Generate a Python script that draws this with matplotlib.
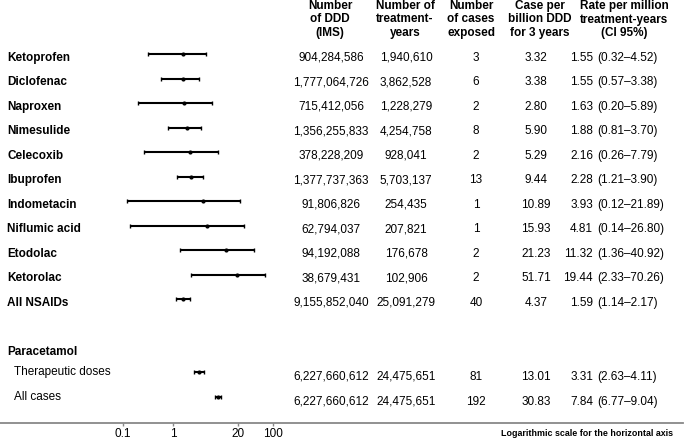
import numpy as np
import matplotlib
matplotlib.use("Agg")
import matplotlib.pyplot as plt
from matplotlib import transforms

plt.rcParams['font.family'] = ['Liberation Sans', 'DejaVu Sans']

# data
drugs = ['Ketoprofen', 'Diclofenac', 'Naproxen', 'Nimesulide', 'Celecoxib',
         'Ibuprofen', 'Indometacin', 'Niflumic acid', 'Etodolac', 'Ketorolac',
         'All NSAIDs']
ddd = [904284586, 1777064726, 715412056, 1356255833, 378228209, 1377737363,
       91806826, 62794037, 94192088, 38679431, 9155852040]
years = [1940610, 3862528, 1228279, 4254758, 928041, 5703137, 254435,
         207821, 176678, 102906, 25091279]
cases = [3, 6, 2, 8, 2, 13, 1, 1, 2, 2, 40]
per_billion = [3.32, 3.38, 2.80, 5.90, 5.29, 9.44, 10.89, 15.93, 21.23, 51.71, 4.37]
rate = [1.55, 1.55, 1.63, 1.88, 2.16, 2.28, 3.93, 4.81, 11.32, 19.44, 1.59]
ci_lo = [0.32, 0.57, 0.20, 0.81, 0.26, 1.21, 0.12, 0.14, 1.36, 2.33, 1.14]
ci_hi = [4.52, 3.38, 5.89, 3.70, 7.79, 3.90, 21.89, 26.80, 40.92, 70.26, 2.17]

para_labels = ['Therapeutic doses', 'All cases']
para_ddd = [6227660612, 6227660612]
para_years = [24475651, 24475651]
para_cases = [81, 192]
para_per_billion = [13.01, 30.83]
para_rate = [3.31, 7.84]
para_lo = [2.63, 6.77]
para_hi = [4.11, 9.04]

headers = ['Number\nof DDD\n(IMS)', 'Number of\ntreatment-\nyears',
           'Number\nof cases\nexposed', 'Case per\nbillion DDD\nfor 3 years',
           'Rate per million\ntreatment-years\n(CI 95%)']
ticks = [0.1, 1, 20, 100]

W, H = 685, 440
axis_y = 422.7
fig = plt.figure(figsize=(W / 100, H / 100), dpi=100)
ax = fig.add_axes([0, (H - axis_y) / H, 683 / W, axis_y / H])
ax.set_xscale('log')
ax.set_xlim(10 ** (-173 / 50), 10 ** ((683 - 173) / 50))
ax.set_ylim(axis_y, 0)
for s in ['top', 'left', 'right']:
    ax.spines[s].set_visible(False)
ax.spines['bottom'].set_color('#888888')
ax.spines['bottom'].set_linewidth(1.3)
ax.set_yticks([])
ax.set_xticks(ticks)
ax.set_xticklabels(['0.1', '1', '20', '100'])
ax.xaxis.set_minor_locator(matplotlib.ticker.NullLocator())
ax.tick_params(axis='x', length=2.5, width=1, color='#888888', pad=1.5,
               labelsize=8.5)

tr = transforms.blended_transform_factory(fig.transFigure, ax.transData)
col_x = [331, 406, 476, 536]
rate_x, ci_x = 593, 597
fs = 8.5

def row_text(y, vals, r, lo, hi):
    for x, v in zip(col_x, vals):
        ax.text(x / W, y, v, transform=tr, ha='center', va='center', fontsize=fs)
    ax.text(rate_x / W, y, f'{r:.2f}', transform=tr, ha='right', va='center', fontsize=fs)
    ax.text(ci_x / W, y, f'({lo:.2f}\u2013{hi:.2f})', transform=tr, ha='left',
            va='center', fontsize=fs)

# headers
for x, h in zip([330, 405, 471, 540, 624], headers):
    ax.text(x / W, 19.5, h, transform=tr, ha='center', va='center',
            multialignment='center', fontsize=8.5, fontweight='bold',
            linespacing=1.12)

# NSAIDs
text_y = 57.7 + 24.5 * np.arange(len(drugs))
bar_y = text_y - 3.5
rate_a = np.array(rate)
ax.errorbar(rate_a, bar_y, xerr=[rate_a - np.array(ci_lo), np.array(ci_hi) - rate_a],
            fmt='o', ms=2.0, color='black', elinewidth=1.5, capsize=1.6,
            capthick=1, clip_on=False)
for i, d in enumerate(drugs):
    ax.text(7 / W, text_y[i], d, transform=tr, ha='left', va='center',
            fontsize=8.5, fontweight='bold')
    row_text(text_y[i], [f'{ddd[i]:,}', f'{years[i]:,}', str(cases[i]),
                         f'{per_billion[i]:.2f}'], rate[i], ci_lo[i], ci_hi[i])

# Paracetamol
ax.text(7 / W, 352.3, 'Paracetamol', transform=tr, ha='left', va='center',
        fontsize=8.5, fontweight='bold')
p_y = np.array([372, 397])
p_rate = np.array(para_rate)
ax.errorbar(p_rate, p_y, xerr=[p_rate - np.array(para_lo), np.array(para_hi) - p_rate],
            fmt='o', ms=2.0, color='black', elinewidth=1.5, capsize=1.6,
            capthick=1, clip_on=False)
for i, lab in enumerate(para_labels):
    ax.text(14 / W, p_y[i], lab, transform=tr, ha='left', va='center', fontsize=8.5)
    row_text(p_y[i] + 4.5, [f'{para_ddd[i]:,}', f'{para_years[i]:,}',
                            str(para_cases[i]), f'{para_per_billion[i]:.2f}'],
             para_rate[i], para_lo[i], para_hi[i])

fig.text(673 / W, 1 - 433 / H, 'Logarithmic scale for the horizontal axis',
         ha='right', va='center', fontsize=6.4, fontweight='bold')

fig.savefig('out.png', dpi=100)
